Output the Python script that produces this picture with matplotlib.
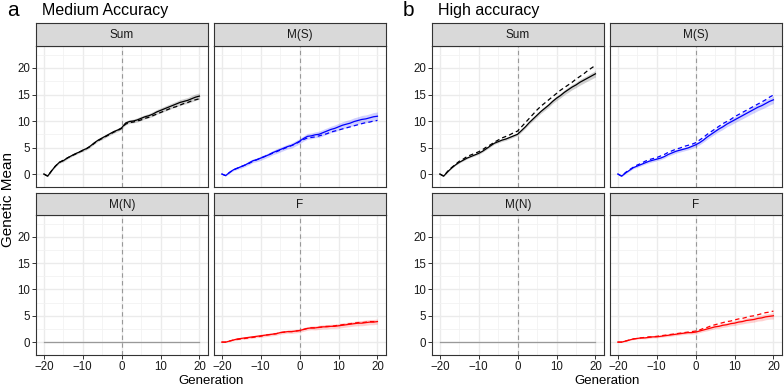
import matplotlib
matplotlib.use("Agg")
import matplotlib.pyplot as plt
from matplotlib.ticker import MultipleLocator

plt.rcParams["font.family"] = ["Liberation Sans", "DejaVu Sans"]

W, H = 784, 386

GEN = list(range(-20, 21))

# generation -20 .. 20 ; solid = realised, dashed = expected
A_SUM = [0.0, -0.4, 0.6, 1.5, 2.2, 2.5, 3.0, 3.4, 3.8, 4.1, 4.5, 4.8, 5.3, 5.9, 6.4, 6.8, 7.2, 7.6, 8.0, 8.3, 8.7,
         9.6, 9.9, 10.0, 10.2, 10.5, 10.8, 11.0, 11.3, 11.7, 12.0, 12.3, 12.6, 12.9, 13.2, 13.5, 13.7, 13.9, 14.2, 14.5, 14.7]
A_SUM_D = [0.0, -0.4, 0.6, 1.5, 2.2, 2.6, 3.0, 3.4, 3.7, 4.1, 4.4, 4.8, 5.2, 5.8, 6.3, 6.7, 7.1, 7.5, 7.9, 8.2, 8.6,
           9.4, 9.7, 9.8, 10.0, 10.2, 10.5, 10.7, 11.0, 11.3, 11.6, 11.9, 12.2, 12.5, 12.7, 13.0, 13.3, 13.5, 13.8, 14.0, 14.2]
A_MS = [0.0, -0.3, 0.3, 0.8, 1.1, 1.4, 1.7, 2.1, 2.5, 2.7, 3.0, 3.3, 3.6, 4.0, 4.3, 4.6, 4.9, 5.2, 5.4, 5.8, 6.2,
        6.7, 7.1, 7.2, 7.4, 7.5, 7.8, 8.1, 8.4, 8.6, 8.9, 9.2, 9.4, 9.6, 9.9, 10.1, 10.3, 10.4, 10.6, 10.8, 10.9]
A_MS_D = [0.0, -0.3, 0.3, 0.8, 1.1, 1.4, 1.7, 2.0, 2.4, 2.7, 3.0, 3.3, 3.6, 3.9, 4.2, 4.5, 4.8, 5.1, 5.4, 5.7, 6.1,
          6.5, 6.8, 6.9, 7.0, 7.2, 7.4, 7.6, 7.9, 8.1, 8.3, 8.5, 8.7, 8.9, 9.1, 9.3, 9.5, 9.7, 9.8, 10.0, 10.1]
A_F = [0.0, 0.0, 0.2, 0.4, 0.6, 0.7, 0.8, 0.9, 1.0, 1.1, 1.2, 1.3, 1.4, 1.5, 1.6, 1.8, 1.9, 2.0, 2.0, 2.1, 2.2,
       2.4, 2.6, 2.7, 2.7, 2.8, 2.9, 2.9, 3.0, 3.0, 3.1, 3.2, 3.3, 3.4, 3.5, 3.6, 3.6, 3.7, 3.8, 3.8, 3.9]
A_F_D = [0.0, 0.0, 0.2, 0.4, 0.5, 0.6, 0.7, 0.8, 0.9, 1.0, 1.1, 1.3, 1.4, 1.5, 1.6, 1.8, 1.9, 2.0, 2.0, 2.1, 2.2,
         2.4, 2.6, 2.7, 2.7, 2.8, 2.9, 3.0, 3.0, 3.1, 3.2, 3.3, 3.4, 3.5, 3.6, 3.7, 3.7, 3.8, 3.9, 3.9, 4.0]
B_SUM = [0.0, -0.4, 0.4, 1.1, 1.7, 2.2, 2.6, 3.0, 3.3, 3.6, 3.9, 4.3, 4.8, 5.3, 5.8, 6.1, 6.4, 6.6, 6.9, 7.2, 7.5,
         8.2, 8.9, 9.7, 10.4, 11.1, 11.8, 12.4, 13.0, 13.7, 14.3, 14.8, 15.4, 15.9, 16.4, 16.8, 17.3, 17.7, 18.1, 18.5, 18.9]
B_SUM_D = [0.0, -0.4, 0.5, 1.2, 1.8, 2.4, 2.8, 3.3, 3.6, 3.9, 4.2, 4.6, 5.1, 5.5, 6.0, 6.4, 6.8, 7.1, 7.4, 7.8, 8.1,
           8.9, 9.7, 10.5, 11.3, 12.1, 12.8, 13.4, 14.0, 14.6, 15.2, 15.8, 16.3, 16.8, 17.3, 17.9, 18.4, 18.9, 19.5, 20.0, 20.5]
B_MS = [0.0, -0.4, 0.2, 0.7, 1.2, 1.5, 1.8, 2.1, 2.4, 2.6, 2.8, 3.0, 3.3, 3.7, 4.0, 4.3, 4.5, 4.7, 4.9, 5.2, 5.5,
        5.9, 6.4, 7.0, 7.5, 8.0, 8.5, 8.9, 9.4, 9.8, 10.2, 10.6, 11.0, 11.4, 11.8, 12.2, 12.6, 12.9, 13.3, 13.7, 14.0]
B_MS_D = [0.0, -0.4, 0.3, 0.8, 1.3, 1.7, 2.0, 2.4, 2.7, 2.9, 3.1, 3.4, 3.7, 4.1, 4.4, 4.7, 4.9, 5.2, 5.4, 5.6, 5.9,
          6.4, 6.9, 7.5, 8.0, 8.5, 9.0, 9.5, 9.9, 10.3, 10.8, 11.2, 11.6, 12.0, 12.4, 12.8, 13.2, 13.6, 14.0, 14.5, 14.9]
B_F = [0.0, 0.0, 0.2, 0.4, 0.6, 0.7, 0.8, 0.8, 0.9, 1.0, 1.0, 1.1, 1.2, 1.3, 1.4, 1.5, 1.6, 1.7, 1.8, 1.8, 1.9,
       2.1, 2.3, 2.5, 2.7, 2.9, 3.0, 3.2, 3.3, 3.5, 3.6, 3.8, 3.9, 4.1, 4.2, 4.3, 4.5, 4.6, 4.8, 4.9, 5.0]
B_F_D = [0.0, 0.0, 0.2, 0.4, 0.6, 0.7, 0.8, 0.9, 1.0, 1.0, 1.1, 1.2, 1.3, 1.4, 1.5, 1.6, 1.7, 1.8, 1.9, 2.0, 2.1,
         2.3, 2.6, 2.8, 3.1, 3.3, 3.5, 3.7, 3.9, 4.0, 4.2, 4.4, 4.5, 4.7, 4.9, 5.0, 5.2, 5.4, 5.6, 5.7, 5.9]
ZERO = [0.0] * 41

# ribbon half-widths around the solid line
RIB_A_SUM = [0.0, 0.1, 0.1, 0.15, 0.2, 0.2, 0.2, 0.2, 0.2, 0.2, 0.25, 0.25, 0.25, 0.25, 0.25, 0.3, 0.3, 0.3, 0.3, 0.3, 0.3,
             0.35, 0.35, 0.35, 0.4, 0.4, 0.4, 0.4, 0.45, 0.45, 0.45, 0.5, 0.5, 0.5, 0.5, 0.55, 0.55, 0.55, 0.6, 0.6, 0.6]
RIB_A_MS = [0.0, 0.1, 0.15, 0.2, 0.25, 0.3, 0.3, 0.35, 0.35, 0.35, 0.4, 0.4, 0.4, 0.4, 0.45, 0.45, 0.45, 0.45, 0.5, 0.5, 0.5,
            0.5, 0.55, 0.55, 0.55, 0.6, 0.6, 0.6, 0.6, 0.65, 0.65, 0.65, 0.7, 0.7, 0.7, 0.7, 0.75, 0.75, 0.75, 0.8, 0.8]
RIB_A_F = [0.0, 0.05, 0.1, 0.15, 0.2, 0.2, 0.25, 0.25, 0.25, 0.25, 0.3, 0.3, 0.3, 0.3, 0.3, 0.3, 0.3, 0.3, 0.35, 0.35, 0.35,
           0.35, 0.35, 0.35, 0.4, 0.4, 0.4, 0.4, 0.4, 0.4, 0.45, 0.45, 0.45, 0.45, 0.45, 0.5, 0.5, 0.5, 0.5, 0.5, 0.5]
RIB_B_SUM = [0.0, 0.05, 0.1, 0.1, 0.1, 0.15, 0.15, 0.15, 0.15, 0.2, 0.2, 0.2, 0.2, 0.2, 0.2, 0.2, 0.25, 0.25, 0.25, 0.25, 0.25,
             0.3, 0.3, 0.3, 0.35, 0.35, 0.35, 0.4, 0.4, 0.4, 0.45, 0.45, 0.45, 0.5, 0.5, 0.5, 0.55, 0.55, 0.55, 0.6, 0.6]
RIB_B_MS = [0.0, 0.1, 0.15, 0.2, 0.2, 0.25, 0.25, 0.25, 0.3, 0.3, 0.3, 0.3, 0.3, 0.3, 0.35, 0.35, 0.35, 0.35, 0.35, 0.4, 0.4,
            0.4, 0.4, 0.45, 0.45, 0.45, 0.5, 0.5, 0.5, 0.55, 0.55, 0.55, 0.6, 0.6, 0.6, 0.65, 0.65, 0.65, 0.7, 0.7, 0.7]
RIB_B_F = [0.0, 0.05, 0.1, 0.1, 0.15, 0.15, 0.15, 0.2, 0.2, 0.2, 0.2, 0.2, 0.2, 0.25, 0.25, 0.25, 0.25, 0.25, 0.25, 0.3, 0.3,
           0.3, 0.3, 0.35, 0.35, 0.35, 0.4, 0.4, 0.4, 0.4, 0.45, 0.45, 0.45, 0.5, 0.5, 0.5, 0.5, 0.55, 0.55, 0.55, 0.6]

FACETS = ["Sum", "M(S)", "M(N)", "F"]
COLORS = {"Sum": "#000000", "M(S)": "#0000FF", "M(N)": "#999999", "F": "#FF0000"}
PANEL_DATA = {
    "a": {"Sum": (A_SUM, A_SUM_D, RIB_A_SUM), "M(S)": (A_MS, A_MS_D, RIB_A_MS),
          "M(N)": (ZERO, None, None), "F": (A_F, A_F_D, RIB_A_F)},
    "b": {"Sum": (B_SUM, B_SUM_D, RIB_B_SUM), "M(S)": (B_MS, B_MS_D, RIB_B_MS),
          "M(N)": (ZERO, None, None), "F": (B_F, B_F_D, RIB_B_F)},
}
TITLES = {"a": "Medium Accuracy", "b": "High accuracy"}

GREY20 = "#333333"
fig = plt.figure(figsize=(W / 100, H / 100), dpi=100)


def px_rect(x0, y0, x1, y1):
    return [x0 / W, 1 - y1 / H, (x1 - x0) / W, (y1 - y0) / H]


COLX = {"a": [(36, 208), (214, 386)], "b": [(432, 604), (610, 782)]}
ROWY = [(23, 46, 187), (193, 215, 355)]

for fig_key in ("a", "b"):
    for i, name in enumerate(FACETS):
        r, c = divmod(i, 2)
        x0, x1 = COLX[fig_key][c]
        s0, p0, p1 = ROWY[r]
        ax = fig.add_axes(px_rect(x0, p0, x1, p1))
        ax.set_xlim(-22, 22.2)
        ax.set_ylim(-2.45, 24.15)
        ax.xaxis.set_major_locator(MultipleLocator(10))
        ax.xaxis.set_minor_locator(MultipleLocator(5))
        ax.yaxis.set_major_locator(MultipleLocator(5))
        ax.yaxis.set_minor_locator(MultipleLocator(2.5))
        ax.grid(True, which="major", color="#EBEBEB", lw=1.0)
        ax.grid(True, which="minor", color="#F2F2F2", lw=0.6)
        ax.set_axisbelow(True)
        for s in ax.spines.values():
            s.set_color(GREY20)
            s.set_linewidth(0.8)
        ax.tick_params(which="minor", length=0)
        ax.tick_params(which="major", length=3, width=0.7, color=GREY20, labelsize=8.3,
                       labelcolor="#1A1A1A", pad=1.2)
        if c != 0:
            ax.tick_params(axis="y", which="major", left=False, labelleft=False)
        if r == 0:
            ax.tick_params(axis="x", which="major", bottom=False, labelbottom=False)
        ax.set_xticks([-20, -10, 0, 10, 20])
        ax.set_xticklabels(["\u221220", "\u221210", "0", "10", "20"])

        ax.axvline(0, color="#999999", lw=0.8, ls=(0, (4, 3)), zorder=1)

        solid, dashed, rib = PANEL_DATA[fig_key][name]
        col = COLORS[name]
        if rib is not None:
            lo = [v - e for v, e in zip(solid, rib)]
            hi = [v + e for v, e in zip(solid, rib)]
            ax.fill_between(GEN, lo, hi, color=col, alpha=0.18, lw=0, zorder=2)
        if dashed is not None:
            ax.plot(GEN, dashed, color=col, lw=0.9, ls=(0, (3.5, 2.5)), zorder=3)
        ax.plot(GEN, solid, color=col, lw=0.9, zorder=4)

        sax = fig.add_axes(px_rect(x0, s0, x1, p0))
        sax.set_facecolor("#D9D9D9")
        sax.set_xticks([]); sax.set_yticks([])
        for s in sax.spines.values():
            s.set_color(GREY20)
            s.set_linewidth(0.8)
        sax.text(0.5, 0.47, name, ha="center", va="center", fontsize=8.5, color="#1A1A1A",
                 transform=sax.transAxes)

    lx = COLX[fig_key][0][0]
    fig.text((lx - 29) / W, 1 - 15.5 / H, fig_key, fontsize=15, ha="left", va="baseline")
    fig.text((lx + 6.5) / W, 1 - 14.5 / H, TITLES[fig_key], fontsize=11.5, ha="left", va="baseline")
    cx = (COLX[fig_key][0][0] + COLX[fig_key][1][1]) / 2
    fig.text(cx / W, 1 - 383.5 / H, "Generation", fontsize=9.5, ha="center", va="baseline")

fig.text(8 / W, 1 - 200 / H, "Genetic Mean", fontsize=11, rotation=90, ha="center", va="center")

fig.savefig("out.png", dpi=100, facecolor="white")
